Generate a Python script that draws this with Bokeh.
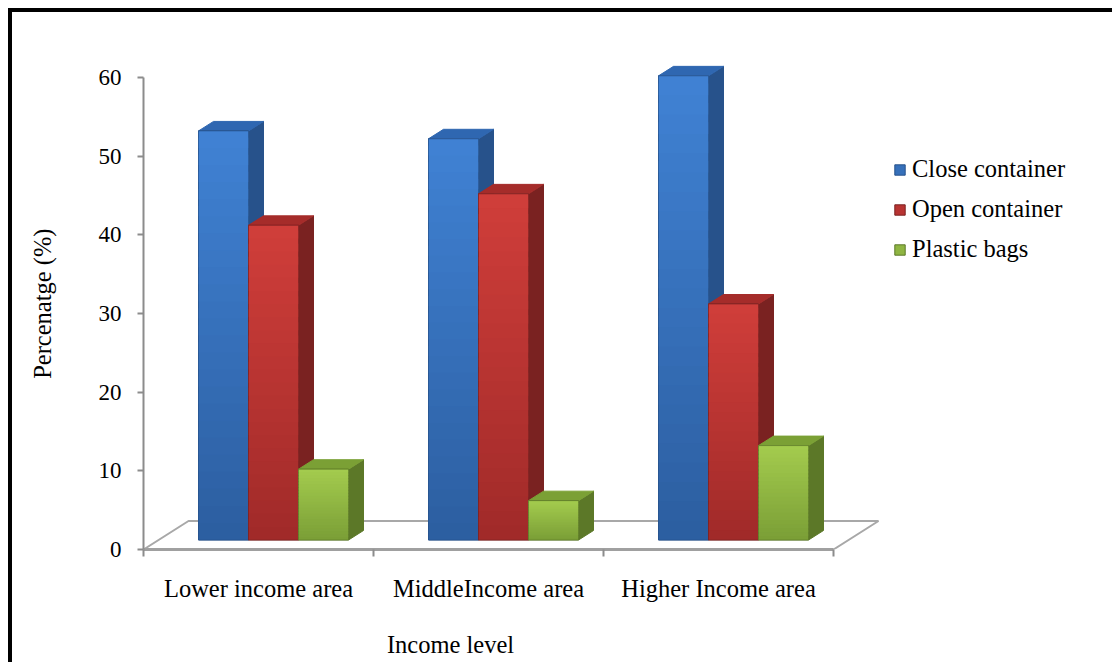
import math
from bokeh.plotting import figure
from bokeh.models import (Range1d, LinearAxis, FixedTicker, Legend, LegendItem,
                          ColumnDataSource, InlineStyleSheet)
from bokeh.embed import file_html
from bokeh.resources import INLINE

# ---- data -------------------------------------------------------------
categories = ["Lower income area", "MiddleIncome area", "Higher Income area"]
series_names = ["Close container", "Open container", "Plastic bags"]
close_container = [52, 51, 59]
open_container = [40, 44, 30]
plastic_bags = [9, 5, 12]
y_ticks = [0, 10, 20, 30, 40, 50, 60]
x_title = "Income level"
y_title = "Percenatge (%)"

series_values = [close_container, open_container, plastic_bags]
# front (top of face, bottom of face) / side / top colours for each series
face_colors = [
    ((64, 130, 212), (44, 94, 160), "#27528b", "#2f67b1"),
    ((208, 62, 58), (160, 42, 41), "#7a2221", "#a52c2a"),
    ((164, 204, 78), (122, 158, 54), "#5c7828", "#7ba035"),
]
N_SHADES = 24   # shading steps down each front face


def mix(c1, c2, t):
    r, g, b = (round(a + (b_ - a) * t) for a, b_ in zip(c1, c2))
    return f"#{r:02x}{g:02x}{b:02x}"


# ---- layout constants (pixels) ----------------------------------------
W, H = 1112, 662
LEFT, TOP, BOTTOM = 143, 20, 113
PX_PER_CAT = 230.0                 # one category slot on the x axis
PX_PER_UNIT = 472.0 / 60.0         # one percentage point on the y axis

# 3-D projection: one depth step moves right and up
DX = 15.0 / PX_PER_CAT
DY = 9.5 / PX_PER_UNIT
BAR_W = 50.0 / PX_PER_CAT
FLOOR_DEPTH = 3                    # floor is three depth steps deep

x_end = (W - LEFT) / PX_PER_CAT
y_end = (H - BOTTOM - TOP) / PX_PER_UNIT

# where the axis titles sit along their axes (pixels from frame left / frame bottom)
X_TITLE_AT = (450 - LEFT) / PX_PER_CAT
Y_TITLE_AT = 321 / PX_PER_UNIT

FONT = "Liberation Serif"
TEXT_SIZE = "24.5px"

p = figure(width=W, height=H, output_backend="svg", toolbar_location=None,
           x_range=Range1d(0, x_end), y_range=Range1d(0, y_end),
           x_axis_type=None, y_axis_type=None,
           min_border_left=LEFT, min_border_right=0,
           min_border_top=TOP, min_border_bottom=BOTTOM)
p.outline_line_color = None
p.background_fill_color = "white"
p.border_fill_color = "white"

# ---- floor ------------------------------------------------------------
n_cat = len(categories)
floor_x = [0, n_cat, n_cat + FLOOR_DEPTH * DX, FLOOR_DEPTH * DX]
floor_y = [0, 0, FLOOR_DEPTH * DY, FLOOR_DEPTH * DY]
p.patch(floor_x, floor_y, fill_color="white", line_color="#a8a8a8", line_width=2)

# ---- 3-D bars -----------------------------------------------------------
legend_items = []
for s, (name, vals) in enumerate(zip(series_names, series_values)):
    front_hi, front_lo, side_c, top_c = face_colors[s]
    fl, fr, fb, ft = [], [], [], []
    side_xs, side_ys, top_xs, top_ys = [], [], [], []
    shade = dict(left=[], right=[], bottom=[], top=[], color=[])
    for i, v in enumerate(vals):
        centre = i + 0.5
        left = centre - 1.5 * BAR_W + s * BAR_W + DX
        right = left + BAR_W
        bottom = DY
        top = v + DY
        fl.append(left); fr.append(right); fb.append(bottom); ft.append(top)
        side_xs.append([right, right + DX, right + DX, right])
        side_ys.append([bottom, bottom + DY, top + DY, top])
        top_xs.append([left, right, right + DX, left + DX])
        top_ys.append([top, top, top + DY, top + DY])
        step = (top - bottom) / N_SHADES
        for k in range(N_SHADES):
            b = bottom + k * step
            shade["left"].append(left)
            shade["right"].append(right)
            shade["bottom"].append(b)
            shade["top"].append(min(top, b + step * 1.6))
            shade["color"].append(mix(front_lo, front_hi, (k + 0.5) / N_SHADES))
    p.patches(side_xs, side_ys, fill_color=side_c, line_color=side_c, line_width=1)
    p.patches(top_xs, top_ys, fill_color=top_c, line_color=top_c, line_width=1)
    src = ColumnDataSource(dict(left=fl, right=fr, bottom=fb, top=ft))
    r = p.quad(left="left", right="right", bottom="bottom", top="top", source=src,
               fill_color=mix(front_lo, front_hi, 0.5), line_color=side_c, line_width=1)
    p.quad(left="left", right="right", bottom="bottom", top="top", fill_color="color",
           line_color=None, source=ColumnDataSource(shade))
    p.quad(left="left", right="right", bottom="bottom", top="top", source=src,
           fill_color=None, line_color=side_c, line_width=1, line_alpha=0.6)
    legend_items.append(LegendItem(label=name, renderers=[r]))

# ---- axes -------------------------------------------------------------
yaxis = LinearAxis(ticker=FixedTicker(ticks=y_ticks), bounds=(0, 60))
yaxis.axis_line_color = "#8c8c8c"
yaxis.axis_line_width = 2
yaxis.major_tick_line_color = "#8c8c8c"
yaxis.major_tick_line_width = 2
yaxis.major_tick_in = 0
yaxis.major_tick_out = 6
yaxis.minor_tick_line_color = None
yaxis.major_label_standoff = 16
yaxis.major_label_text_font = FONT
yaxis.major_label_text_font_size = "23px"
yaxis.major_label_text_color = "black"
p.add_layout(yaxis, "left")

xaxis = LinearAxis(ticker=FixedTicker(ticks=[i + 0.5 for i in range(n_cat)],
                                      minor_ticks=list(range(n_cat + 1))),
                   bounds=(0, n_cat))
xaxis.major_label_overrides = {i + 0.5: c for i, c in enumerate(categories)}
xaxis.axis_line_color = "#a0a0a0"
xaxis.axis_line_width = 3
xaxis.major_tick_line_color = None
xaxis.major_tick_in = 0
xaxis.major_tick_out = 6
xaxis.minor_tick_line_color = "#8c8c8c"
xaxis.minor_tick_line_width = 2
xaxis.minor_tick_in = 0
xaxis.minor_tick_out = 7
xaxis.major_label_standoff = 18
xaxis.major_label_text_font = FONT
xaxis.major_label_text_font_size = TEXT_SIZE
xaxis.major_label_text_color = "black"
p.add_layout(xaxis, "below")


def title_axis(at, text, standoff, orientation):
    """A bare axis carrying a single label: used for the axis titles."""
    ax = LinearAxis(ticker=FixedTicker(ticks=[at], minor_ticks=[]))
    ax.major_label_overrides = {at: text}
    ax.axis_line_color = None
    ax.major_tick_line_color = None
    ax.minor_tick_line_color = None
    ax.major_tick_in = 0
    ax.major_tick_out = 0
    ax.major_label_standoff = standoff
    ax.major_label_orientation = orientation
    ax.major_label_text_font = FONT
    ax.major_label_text_font_size = TEXT_SIZE
    ax.major_label_text_color = "black"
    return ax


p.add_layout(title_axis(X_TITLE_AT, x_title, 26, "horizontal"), "below")
p.add_layout(title_axis(Y_TITLE_AT, y_title, 53, math.pi / 2), "left")

# ---- legend -------------------------------------------------------------
legend = Legend(items=legend_items, location=(750, 286),
                label_text_font=FONT, label_text_font_size=TEXT_SIZE,
                label_text_color="black", glyph_width=13, glyph_height=13,
                label_standoff=6, spacing=12, padding=0, margin=0,
                border_line_color=None, background_fill_alpha=0)
p.add_layout(legend)

# ---- black frame around the figure -------------------------------------
p.stylesheets = [InlineStyleSheet(css="""
:host { position: relative; }
:host::after {
  content: ""; position: absolute; left: 8px; top: 8px; right: 0; bottom: 0;
  border-left: 4px solid #000; border-top: 4px solid #000; pointer-events: none;
}
""")]

open("out.html", "w").write(file_html(p, INLINE))
